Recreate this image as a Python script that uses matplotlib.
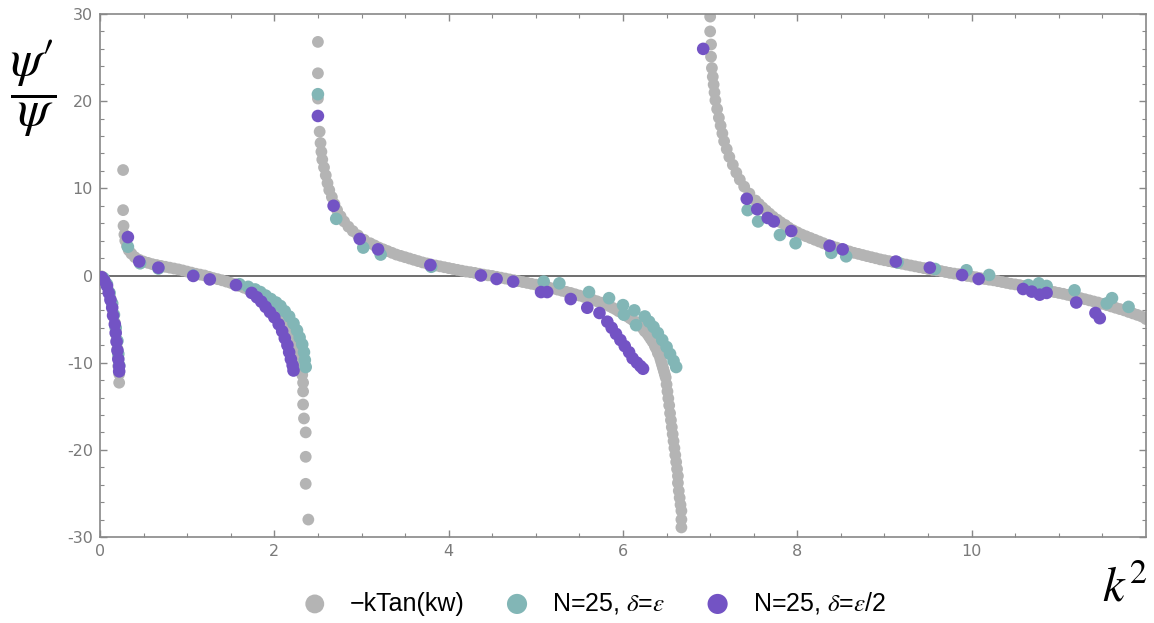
import numpy as np
import matplotlib
matplotlib.use("Agg")
import matplotlib.pyplot as plt
from matplotlib.ticker import FixedLocator, FuncFormatter

# -kTan(kw)
gray_k2 = [
    0.02, 0.05, 0.08, 0.10, 0.12, 0.14, 0.15, 0.17, 0.18, 0.19, 0.20, 0.21, 0.21, 0.22, 0.22,
    0.265, 0.265, 0.27, 0.28, 0.29, 0.31, 0.33, 0.36, 0.40, 0.45, 0.50, 0.55, 0.60, 0.65, 0.70,
    0.75, 0.80, 0.85, 0.90, 0.95, 1.00, 1.05, 1.10, 1.15, 1.20, 1.25, 1.30, 1.35, 1.40, 1.45,
    1.50, 1.55, 1.60, 1.65, 1.70, 1.75, 1.80, 1.84, 1.88, 1.92, 1.95, 1.99, 2.02, 2.05, 2.08,
    2.11, 2.13, 2.16, 2.18, 2.20, 2.22, 2.24, 2.25, 2.27, 2.28, 2.29, 2.30, 2.31, 2.32, 2.33,
    2.33, 2.33, 2.34, 2.36, 2.36, 2.36, 2.39,
    2.50, 2.50, 2.50, 2.52, 2.53, 2.54, 2.55, 2.57, 2.59, 2.61, 2.63, 2.66, 2.69, 2.72, 2.76,
    2.80, 2.85, 2.90, 2.96, 3.03, 3.10, 3.15, 3.20, 3.25, 3.30, 3.35, 3.40, 3.45, 3.50, 3.55,
    3.60, 3.65, 3.70, 3.75, 3.80, 3.85, 3.90, 3.95, 4.00, 4.05, 4.10, 4.15, 4.20, 4.25, 4.30,
    4.35, 4.40, 4.45, 4.50, 4.55, 4.60, 4.65, 4.70, 4.75, 4.80, 4.85, 4.90, 4.95, 5.00, 5.05,
    5.10, 5.15, 5.20, 5.25, 5.30, 5.35, 5.40, 5.45, 5.50, 5.55, 5.60, 5.65, 5.70, 5.75, 5.80,
    5.84, 5.88, 5.92, 5.95, 5.99, 6.02, 6.05, 6.08, 6.11, 6.14, 6.17, 6.20, 6.23, 6.25, 6.28,
    6.30, 6.32, 6.34, 6.36, 6.37, 6.39, 6.40, 6.42, 6.43, 6.44, 6.45, 6.46, 6.47, 6.48, 6.49,
    6.50, 6.51, 6.52, 6.53, 6.54, 6.55, 6.56, 6.57, 6.58, 6.59, 6.60, 6.61, 6.62, 6.63, 6.63,
    6.64, 6.65, 6.66, 6.67, 6.67, 6.67,
    7.00, 7.00, 7.01, 7.01, 7.02, 7.03, 7.04, 7.05, 7.06, 7.08, 7.10, 7.12, 7.14, 7.16, 7.19,
    7.22, 7.26, 7.30, 7.34, 7.39, 7.45, 7.52, 7.56, 7.60, 7.64, 7.68, 7.72, 7.77, 7.81, 7.86,
    7.90, 7.95, 8.00, 8.05, 8.10, 8.15, 8.20, 8.25, 8.30, 8.35, 8.40, 8.45, 8.50, 8.55, 8.60,
    8.65, 8.70, 8.75, 8.80, 8.85, 8.90, 8.95, 9.00, 9.05, 9.10, 9.15, 9.20, 9.25, 9.30, 9.35,
    9.40, 9.45, 9.50, 9.55, 9.60, 9.65, 9.70, 9.75, 9.80, 9.85, 9.90, 9.95, 10.00, 10.05, 10.10,
    10.15, 10.20, 10.25, 10.30, 10.35, 10.40, 10.45, 10.50, 10.55, 10.60, 10.65, 10.70, 10.75,
    10.80, 10.85, 10.90, 10.95, 11.00, 11.05, 11.10, 11.15, 11.20, 11.25, 11.30, 11.35, 11.40,
    11.45, 11.50, 11.55, 11.60, 11.65, 11.70, 11.75, 11.80, 11.85, 11.90, 11.95, 12.00,
]
gray_val = [
    -0.1, -0.5, -1.1, -1.8, -2.6, -3.5, -4.4, -5.4, -6.4, -7.4, -8.4, -9.4, -10.4, -11.3, -12.3,
    12.1, 7.5, 5.7, 4.7, 4.0, 3.4, 2.9, 2.5, 2.1, 1.8, 1.6, 1.45, 1.3, 1.2, 1.1,
    1.0, 0.9, 0.8, 0.7, 0.58, 0.45, 0.33, 0.2, 0.1, 0.0, -0.15, -0.3, -0.42, -0.55, -0.7,
    -0.85, -1.0, -1.2, -1.4, -1.6, -1.85, -2.1, -2.35, -2.6, -2.85, -3.1, -3.45, -3.8, -4.15, -4.5,
    -4.85, -5.2, -5.6, -6.0, -6.45, -6.9, -7.35, -7.8, -8.25, -8.7, -9.15, -9.6, -10.5, -11.4, -12.3,
    -13.3, -14.8, -16.4, -18.0, -20.8, -23.9, -28.0,
    26.8, 23.2, 20.3, 16.5, 15.2, 14.2, 13.3, 12.4, 11.5, 10.6, 9.8, 9.0, 8.2, 7.5, 6.8,
    6.2, 5.6, 5.1, 4.6, 4.1, 3.7, 3.45, 3.2, 3.0, 2.8, 2.6, 2.4, 2.25, 2.1, 1.95,
    1.8, 1.65, 1.5, 1.38, 1.25, 1.15, 1.05, 0.95, 0.85, 0.75, 0.65, 0.55, 0.45, 0.38, 0.3,
    0.2, 0.1, 0.02, -0.05, -0.15, -0.25, -0.35, -0.45, -0.55, -0.65, -0.75, -0.85, -0.95, -1.05, -1.15,
    -1.25, -1.38, -1.5, -1.62, -1.75, -1.88, -2.0, -2.15, -2.3, -2.45, -2.6, -2.78, -2.95, -3.12, -3.3,
    -3.5, -3.7, -3.9, -4.1, -4.3, -4.5, -4.7, -4.9, -5.1, -5.3, -5.55, -5.8, -6.1, -6.4, -6.7,
    -7.0, -7.3, -7.6, -7.9, -8.2, -8.55, -8.9, -9.25, -9.6, -9.95, -10.3, -10.65, -11.0, -11.35, -11.7,
    -12.5, -13.3, -14.1, -14.9, -15.8, -16.6, -17.4, -18.2, -19.0, -19.8, -20.6, -21.4, -22.2, -23.0, -23.8,
    -24.7, -25.5, -26.3, -27.0, -28.0, -28.9,
    29.7, 28.0, 26.5, 25.1, 23.8, 22.8, 21.9, 21.0, 20.1, 19.1, 18.1, 17.2, 16.3, 15.4, 14.5,
    13.6, 12.7, 11.8, 11.0, 10.2, 9.4, 8.6, 8.2, 7.8, 7.45, 7.1, 6.75, 6.4, 6.1, 5.8,
    5.5, 5.2, 4.95, 4.7, 4.5, 4.3, 4.1, 3.9, 3.7, 3.5, 3.35, 3.2, 3.05, 2.9, 2.75,
    2.6, 2.48, 2.35, 2.22, 2.1, 1.98, 1.85, 1.75, 1.65, 1.55, 1.45, 1.35, 1.25, 1.15, 1.05,
    0.95, 0.85, 0.75, 0.65, 0.58, 0.5, 0.4, 0.3, 0.22, 0.15, 0.05, -0.05, -0.12, -0.2, -0.3,
    -0.4, -0.48, -0.55, -0.65, -0.75, -0.85, -0.95, -1.02, -1.1, -1.2, -1.3, -1.4, -1.5,
    -1.6, -1.7, -1.8, -1.9, -2.0, -2.1, -2.22, -2.35, -2.48, -2.6, -2.72, -2.85, -2.98,
    -3.1, -3.25, -3.4, -3.55, -3.7, -3.85, -4.0, -4.18, -4.35, -4.52, -4.7, -5.0,
]

# N=25, delta=eps
teal_k2 = [
    0.04, 0.08, 0.11, 0.14, 0.16, 0.18, 0.20, 0.21, 0.22,
    0.32, 0.46, 0.67, 1.07, 1.60, 1.70, 1.78, 1.84, 1.90, 1.96, 2.02, 2.07, 2.12, 2.17,
    2.22, 2.26, 2.29, 2.32, 2.34, 2.35, 2.36,
    2.50, 2.71, 3.02, 3.22, 3.80, 5.09, 5.27, 5.61, 5.84, 6.00, 6.01, 6.13, 6.15, 6.25,
    6.30, 6.35, 6.40, 6.45, 6.50, 6.54, 6.58, 6.61,
    7.43, 7.55, 7.80, 7.98, 8.39, 8.56, 9.15, 9.58, 9.94, 10.20, 10.65, 10.77, 10.86,
    11.18, 11.55, 11.61, 11.80,
]
teal_val = [
    -0.3, -1.0, -2.0, -3.2, -4.5, -6.0, -7.5, -9.0, -10.3,
    3.3, 1.4, 0.8, 0.0, -1.0, -1.3, -1.6, -1.9, -2.3, -2.7, -3.1, -3.5, -4.1, -4.7,
    -5.5, -6.3, -7.1, -7.9, -8.8, -9.7, -10.5,
    20.8, 6.5, 3.2, 2.4, 1.0, -0.7, -0.9, -1.9, -2.6, -3.4, -4.5, -4.0, -5.7, -4.7,
    -5.3, -5.9, -6.6, -7.4, -8.2, -9.0, -9.8, -10.5,
    7.5, 6.2, 4.65, 3.7, 2.6, 2.2, 1.5, 0.75, 0.6, 0.06, -1.1, -0.9, -1.2,
    -1.7, -3.2, -2.6, -3.6,
]

# N=25, delta=eps/2
purple_k2 = [
    0.02, 0.05, 0.08, 0.10, 0.12, 0.14, 0.15, 0.17, 0.18, 0.19, 0.20, 0.21, 0.22, 0.22,
    0.32, 0.45, 0.67, 1.07, 1.26, 1.56, 1.74, 1.80, 1.85, 1.90, 1.95, 2.00, 2.05, 2.09,
    2.12, 2.15, 2.17, 2.19, 2.21, 2.22,
    2.50, 2.68, 2.98, 3.19, 3.79, 4.37, 4.55, 4.74, 5.06, 5.13, 5.40, 5.59, 5.73, 5.82,
    5.87, 5.92, 5.97, 6.02, 6.07, 6.11, 6.16, 6.20, 6.23,
    6.92, 7.42, 7.54, 7.66, 7.73, 7.93, 8.37, 8.52, 9.13, 9.52, 9.89, 10.08, 10.59, 10.69,
    10.78, 10.86, 11.20, 11.42, 11.47,
]
purple_val = [
    -0.2, -0.6, -1.2, -2.0, -2.8, -3.7, -4.6, -5.6, -6.6, -7.6, -8.6, -9.6, -10.4, -11.0,
    4.4, 1.6, 0.9, -0.05, -0.45, -1.1, -2.0, -2.5, -3.0, -3.6, -4.2, -4.8, -5.6, -6.4,
    -7.2, -8.0, -8.8, -9.6, -10.3, -10.9,
    18.3, 8.0, 4.2, 3.0, 1.2, 0.0, -0.4, -0.7, -1.9, -1.9, -2.7, -3.7, -4.3, -5.3,
    -6.0, -6.7, -7.4, -8.1, -8.8, -9.5, -10.0, -10.4, -10.7,
    26.0, 8.8, 7.6, 6.6, 6.2, 5.1, 3.4, 3.0, 1.6, 0.9, 0.05, -0.4, -1.55, -1.85,
    -2.2, -2.0, -3.1, -4.3, -4.9,
]

labels = ["\u2212kTan(kw)", r"N=25, $\delta$=$\epsilon$", r"N=25, $\delta$=$\epsilon$/2"]
x_major = [0, 2, 4, 6, 8, 10]
y_major = [-30, -20, -10, 0, 10, 20, 30]

plt.rcParams['mathtext.fontset'] = 'stix'
plt.rcParams['axes.unicode_minus'] = False

fig = plt.figure(figsize=(11.54, 6.23), dpi=100)
ax = fig.add_axes([100 / 1154, 1 - 537 / 623, 1046 / 1154, 523 / 623])

c_gray, c_teal, c_purple = '#b4b4b4', '#82b6b6', '#7353c4'
ax.axhline(0, color='#555555', lw=1.2, zorder=1)
ax.scatter(gray_k2, gray_val, s=72, color=c_gray, edgecolors='none', zorder=2, label=labels[0])
ax.scatter(teal_k2, teal_val, s=82, color=c_teal, edgecolors='none', zorder=3, label=labels[1])
ax.scatter(purple_k2, purple_val, s=82, color=c_purple, edgecolors='none', zorder=4, label=labels[2])

ax.set_xlim(0, 12)
ax.set_ylim(-30, 30)
ax.xaxis.set_major_locator(FixedLocator(x_major))
ax.xaxis.set_minor_locator(FixedLocator([v for v in np.arange(0.5, 12, 0.5) if v % 2]))
ax.yaxis.set_major_locator(FixedLocator(y_major))
ax.yaxis.set_minor_locator(FixedLocator([v for v in range(-28, 30, 2) if v % 10]))
ax.yaxis.set_major_formatter(FuncFormatter(lambda v, p: '%d' % v))
ax.tick_params(which='both', direction='in', top=True, right=True, color='#888888',
               labelcolor='#7a7a7a', labelsize=11.5, pad=5)
ax.tick_params(which='major', length=5, width=1)
ax.tick_params(which='minor', length=3, width=0.8)
for sp in ax.spines.values():
    sp.set_color('#888888')
    sp.set_linewidth(1.2)

# y label: psi'/psi drawn as a stacked fraction
fig.text(33 / 1154, 1 - 88 / 623, "$\\dfrac{\\psi\u2032}{\\psi}$", fontsize=37,
         ha='center', va='center')
fig.text(1148 / 1154, 1 - 588 / 623, r'$k^2$', fontsize=35, ha='right', va='center')

leg = fig.legend(loc='center', bbox_to_anchor=(594 / 1154, 1 - 603 / 623), ncol=3,
                 frameon=False, prop={'family': 'Liberation Sans', 'size': 18},
                 markerscale=1.6, handletextpad=0.9, columnspacing=1.6, handlelength=1.0)

fig.savefig('out.png', dpi=100)
